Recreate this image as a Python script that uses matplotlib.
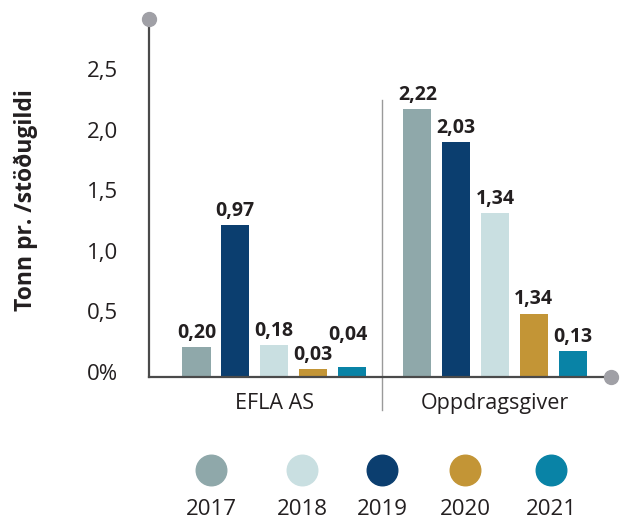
import matplotlib
matplotlib.use("Agg")
import matplotlib.pyplot as plt
import matplotlib.transforms as mtransforms
import numpy as np

plt.rcParams['font.family'] = ['Open Sans', 'DejaVu Sans']

# data
groups = ['EFLA AS', 'Oppdragsgiver']
bar_years = ['2017', '2019', '2018', '2020', '2021']   # order of bars inside each group
efla_heights = [0.24, 1.25, 0.26, 0.06, 0.08]
oppd_heights = [2.21, 1.94, 1.35, 0.52, 0.21]
efla_labels = ['0,20', '0,97', '0,18', '0,03', '0,04']
oppd_labels = ['2,22', '2,03', '1,34', '1,34', '0,13']
legend_years = ['2017', '2018', '2019', '2020', '2021']
yticks = [0, 0.5, 1.0, 1.5, 2.0, 2.5]
ytick_labels = ['0%', '0,5', '1,0', '1,5', '2,0', '2,5']

colors = {'2017': '#8FA8AA', '2018': '#C9DFE1', '2019': '#0B3E6F',
          '2020': '#C39536', '2021': '#0983A6'}
text_col = '#231F20'
axis_col = '#4A4A4A'
dot_col = '#A0A0A6'

W, H = 625, 523
fig = plt.figure(figsize=(W / 100, H / 100), dpi=100)
ax = fig.add_axes([149 / W, 1 - 376.5 / H, (611 - 149) / W, (376.5 - 19) / H])

step = 0.1755
width = 0.127
offsets = (np.arange(5) - 2) * step

# the little EFLA 2021 label is lifted and nudged left so it clears its neighbour
nudge = {(0, 4): (-3, 13)}

for gi, (heights, labels) in enumerate([(efla_heights, efla_labels), (oppd_heights, oppd_labels)]):
    for k, year in enumerate(bar_years):
        x = gi + offsets[k]
        ax.bar(x, heights[k], width=width, color=colors[year], zorder=2)
        dx, dy = nudge.get((gi, k), (0, 0))
        ax.annotate(labels[k], (x, heights[k]), xytext=(dx, 3 + dy), textcoords='offset points',
                    ha='center', va='bottom', fontsize=14, fontweight='bold', color=text_col)

ax.set_xlim(-0.566, 1.525)
ax.set_ylim(0, 2.955)

for side in ['top', 'right']:
    ax.spines[side].set_visible(False)
for side in ['left', 'bottom']:
    ax.spines[side].set_color(axis_col)
    ax.spines[side].set_linewidth(1.6)

ax.set_yticks(yticks)
ax.set_yticklabels(ytick_labels)
ax.tick_params(axis='y', length=0, pad=22, labelsize=16, labelcolor=text_col)
# labels sit a little above their tick positions in the original
shift = mtransforms.ScaledTranslation(0, 5 / 100, fig.dpi_scale_trans)
for lab in ax.get_yticklabels():
    lab.set_transform(lab.get_transform() + shift)

ax.set_xticks([0, 1])
ax.set_xticklabels(groups)
ax.tick_params(axis='x', length=0, pad=12, labelsize=15.5, labelcolor=text_col)

# end dots on the axes
ax.plot([-0.566], [2.955], 'o', ms=10, color=dot_col, clip_on=False, zorder=5)
ax.plot([1.525], [0], 'o', ms=10, color=dot_col, clip_on=False, zorder=5)

# divider between groups
ax.plot([0.489, 0.489], [-0.277, 2.285], color='#9A9A9A', lw=1, clip_on=False)

fig.text(26 / W, 1 - 200 / H, 'Tonn pr. /stöðugildi', rotation=90, ha='center', va='center',
         fontsize=16.5, fontweight='bold', color=text_col)

# legend
leg_x = [211, 302, 382, 465, 551]
for xp, year in zip(leg_x, legend_years):
    fig.lines.append(plt.Line2D([xp / W], [1 - 470 / H], marker='o', ms=22, color=colors[year],
                                transform=fig.transFigure, linestyle='none'))
    fig.text(xp / W, 1 - 515 / H, year, ha='center', va='baseline', fontsize=16, color=text_col)

fig.savefig('out.png', dpi=100)
